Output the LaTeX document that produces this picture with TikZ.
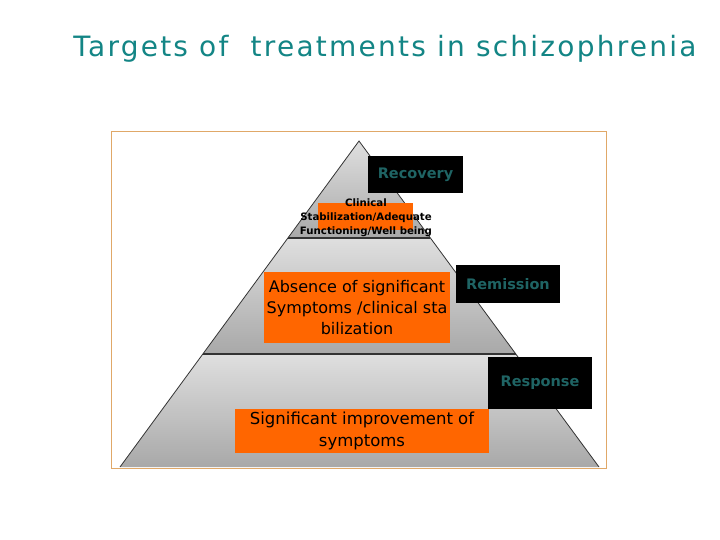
\documentclass[tikz,border=0pt]{standalone}
\usepackage{fontspec}
\setmainfont{DejaVu Sans}
\newfontfamily\titlefont[LetterSpace=8]{DejaVu Sans}
\usetikzlibrary{positioning}

\definecolor{titleteal}{HTML}{138585}
\definecolor{stageteal}{HTML}{1F6464}
\definecolor{boxorange}{HTML}{FF6600}
\definecolor{framebrown}{HTML}{E0A868}

\begin{document}
\begin{tikzpicture}[x=1pt, y=-1pt,
    band/.style={top color=gray!25, bottom color=gray!68},
    stage/.style={rectangle, fill=black, text=stageteal, font=\bfseries\fontsize{14.5}{16}\selectfont, inner sep=0pt},
    target/.style={rectangle, fill=boxorange, align=center, inner sep=0pt, font=\fontsize{16}{21}\selectfont},
    divider/.style={draw=gray!40!black, line width=1.2pt}
]
    \useasboundingbox (0,0) rectangle (720,540);

    % Title
    \node[anchor=base, text=titleteal, font=\titlefont\fontsize{28}{30}\selectfont] (title) at (385,57) {Targets of \ treatments in schizophrenia};

    % Frame
    \draw[framebrown, line width=0.8pt] (111.5,131.5) rectangle (606,468);

    % Pyramid
    \coordinate (apex) at (359,141);
    \coordinate (topL) at (288,238);
    \coordinate (topR) at (430,238);
    \coordinate (midL) at (203,354);
    \coordinate (midR) at (516,354);
    \coordinate (baseL) at (120,467);
    \coordinate (baseR) at (599,467);

    \shade[band] (apex) -- (topR) -- (topL) -- cycle;
    \shade[band] (topL) -- (topR) -- (midR) -- (midL) -- cycle;
    \shade[band] (midL) -- (midR) -- (baseR) -- (baseL) -- cycle;
    \draw[gray!40!black, line width=0.8pt] (baseL) -- (apex) -- (baseR);
    \draw[divider] (topL) -- (topR);
    \draw[divider] (midL) -- (midR);

    % Stages
    \node[stage, minimum width=95, minimum height=37] (recovery) at (415.5,174.5) {Recovery};
    \node[stage, minimum width=104, minimum height=38] (remission) at (508,284) {Remission};
    \node[stage, minimum width=104, minimum height=52] (response) at (540,383) {Response};

    % Targets
    \node[target, minimum width=95, minimum height=27] (clinicalbox) at (365.5,216.5) {};
    \node[align=center, inner sep=0pt, font=\bfseries\fontsize{10.2}{14}\selectfont] (clinical) at (366,218) {Clinical\\Stabilization/Adequate\\Functioning/Well being};
    \node[target, minimum width=186, minimum height=71] (absence) at (357,307.5) {Absence of significant\\Symptoms /clinical sta\\bilization};
    \node[target, minimum width=254, minimum height=44, font=\fontsize{16.5}{22}\selectfont] (improvement) at (362,431) {Significant improvement of\\symptoms};

\end{tikzpicture}
\end{document}
